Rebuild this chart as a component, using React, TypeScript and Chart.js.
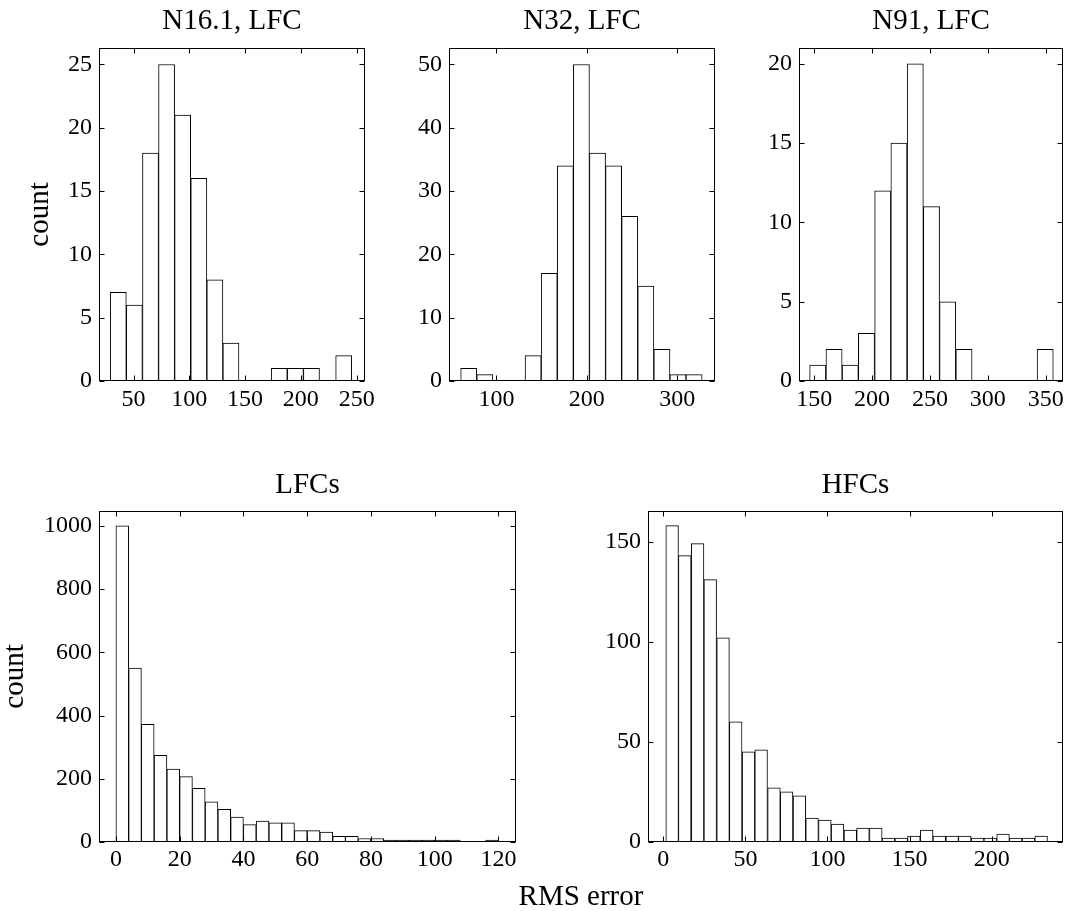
import React, { useEffect, useRef } from "react";
import { Chart, registerables } from "chart.js";
Chart.register(...registerables);

const FONT = "'Liberation Serif', 'Times New Roman', serif";

// ---- N16.1, LFC ----
const N16_BIN_CENTERS = [36.3, 50.7, 65.2, 79.6, 94.0, 108.5, 122.9, 137.3, 151.8, 166.2, 180.6, 195.1, 209.5, 223.9, 238.4];
const N16_COUNTS = [7, 6, 18, 25, 21, 16, 8, 3, 0, 0, 1, 1, 1, 0, 2];
const N16_X_TICKS = [50, 100, 150, 200, 250];
const N16_Y_TICKS = [0, 5, 10, 15, 20, 25];

// ---- N32, LFC ----
const N32_BIN_CENTERS = [69.4, 87.2, 105.0, 122.8, 140.6, 158.4, 176.2, 194.0, 211.8, 229.6, 247.4, 265.2, 283.0, 300.8, 318.6];
const N32_COUNTS = [2, 1, 0, 0, 4, 17, 34, 50, 36, 34, 26, 15, 5, 1, 1];
const N32_X_TICKS = [100, 200, 300];
const N32_Y_TICKS = [0, 10, 20, 30, 40, 50];

// ---- N91, LFC ----
const N91_BIN_CENTERS = [153.0, 167.1, 181.1, 195.1, 209.2, 223.2, 237.3, 251.3, 265.3, 279.4, 293.4, 307.5, 321.5, 335.5, 349.6];
const N91_COUNTS = [1, 2, 1, 3, 12, 15, 20, 11, 5, 2, 0, 0, 0, 0, 2];
const N91_X_TICKS = [150, 200, 250, 300, 350];
const N91_Y_TICKS = [0, 5, 10, 15, 20];

// ---- LFCs ----
const LFC_BIN_CENTERS = [2, 6, 10, 14, 18, 22, 26, 30, 34, 38, 42, 46, 50, 54, 58, 62, 66, 70, 74, 78, 82, 86, 90, 94, 98, 102, 106, 110, 114, 118];
const LFC_COUNTS = [1000, 550, 372, 274, 231, 207, 170, 127, 103, 79, 55, 66, 61, 61, 36, 36, 31, 18, 18, 11, 11, 6, 6, 6, 6, 6, 6, 0, 0, 6];
const LFC_X_TICKS = [0, 20, 40, 60, 80, 100, 120];
const LFC_Y_TICKS = [0, 200, 400, 600, 800, 1000];

// ---- HFCs ----
const HFC_BIN_CENTERS = [5.4, 13.1, 20.9, 28.6, 36.4, 44.1, 51.9, 59.6, 67.4, 75.1, 82.9, 90.6, 98.4, 106.1, 113.9, 121.6, 129.4, 137.1, 144.9, 152.6, 160.4, 168.1, 175.9, 183.6, 191.4, 199.1, 206.9, 214.6, 222.4, 230.1];
const HFC_COUNTS = [158, 143, 149, 131, 102, 60, 45, 46, 27, 25, 23, 12, 11, 9, 6, 7, 7, 2, 2, 3, 6, 3, 3, 3, 2, 2, 4, 2, 2, 3];
const HFC_X_TICKS = [0, 50, 100, 150, 200];
const HFC_Y_TICKS = [0, 50, 100, 150];

type Spec = {
  title: string;
  centers: number[];
  counts: number[];
  xTicks: number[];
  yTicks: number[];
  xMin: number;
  xMax: number;
  yMax: number;
  left: number;
  top: number;
  padL: number;
  plotW: number;
  padR: number;
  padT: number;
  plotH: number;
  padB: number;
  titlePadTop: number;
  xLabelPad: number;
  yTitlePad?: number;
};

const TITLE_SIZE = 29;
const TICK_SIZE = 24;

const boxPlugin = {
  id: "matlabBox",
  afterDatasetsDraw(chart: any) {
    const { ctx, chartArea: a, scales } = chart;
    ctx.save();
    ctx.strokeStyle = "#000";
    ctx.lineWidth = 1;
    const L = Math.round(a.left) + 0.5;
    const R = Math.round(a.right) - 0.5;
    const T = Math.round(a.top) + 0.5;
    const B = Math.round(a.bottom) - 0.5;
    ctx.strokeRect(L, T, R - L, B - T);
    const TL = 5;
    ctx.beginPath();
    scales.x.ticks.forEach((t: any) => {
      const p = Math.round(scales.x.getPixelForValue(t.value)) + 0.5;
      ctx.moveTo(p, B);
      ctx.lineTo(p, B - TL);
      ctx.moveTo(p, T);
      ctx.lineTo(p, T + TL);
    });
    scales.y.ticks.forEach((t: any) => {
      const p = Math.round(scales.y.getPixelForValue(t.value)) + 0.5;
      ctx.moveTo(L, p);
      ctx.lineTo(L + TL, p);
      ctx.moveTo(R, p);
      ctx.lineTo(R - TL, p);
    });
    ctx.stroke();
    ctx.restore();
  },
};

function Panel({ s }: { s: Spec }) {
  const ref = useRef<HTMLCanvasElement>(null);
  const W = s.padL + s.plotW + s.padR;
  const H = s.padT + s.plotH + s.padB;
  useEffect(() => {
    if (!ref.current) return;
    const chart = new Chart(ref.current, {
      type: "bar",
      data: {
        datasets: [
          {
            data: s.centers.map((c, i) => ({ x: c, y: s.counts[i] })),
            backgroundColor: "#ffffff",
            borderColor: "#000000",
            borderWidth: 1,
            barPercentage: 1,
            categoryPercentage: 1,
          } as any,
        ],
      },
      options: {
        responsive: false,
        animation: false,
        devicePixelRatio: 1,
        layout: { padding: { left: 0, top: 0, right: s.padR, bottom: 0 } },
        plugins: {
          legend: { display: false },
          tooltip: { enabled: false },
          title: {
            display: true,
            text: s.title,
            color: "#000",
            fullSize: false,
            font: { family: FONT, size: TITLE_SIZE, weight: "normal", lineHeight: 1 },
            padding: { top: s.titlePadTop, bottom: s.padT - TITLE_SIZE - s.titlePadTop },
          },
        },
        scales: {
          x: {
            type: "linear",
            offset: false,
            min: s.xMin,
            max: s.xMax,
            grid: { display: false, drawTicks: false, offset: false },
            border: { display: false },
            ticks: {
              color: "#000",
              font: { family: FONT, size: TICK_SIZE },
              padding: s.xLabelPad,
              maxRotation: 0,
              minRotation: 0,
              autoSkip: false,
              callback: (v: any) => String(v),
            },
            afterBuildTicks: (sc: any) => {
              sc.ticks = s.xTicks.map((v) => ({ value: v }));
            },
            afterFit: (sc: any) => {
              sc.height = s.padB;
              sc.paddingLeft = 0;
              sc.paddingRight = 0;
            },
          },
          y: {
            type: "linear",
            min: 0,
            max: s.yMax,
            grid: { display: false, drawTicks: false },
            border: { display: false },
            ticks: {
              color: "#000",
              font: { family: FONT, size: TICK_SIZE },
              padding: 7,
              autoSkip: false,
              callback: (v: any) => String(v),
            },
            afterBuildTicks: (sc: any) => {
              sc.ticks = s.yTicks.map((v) => ({ value: v }));
            },
            afterFit: (sc: any) => {
              sc.width = s.padL;
              sc.paddingTop = 0;
              sc.paddingBottom = 0;
            },
            title:
              s.yTitlePad !== undefined
                ? {
                    display: true,
                    text: "count",
                    color: "#000",
                    font: { family: FONT, size: TITLE_SIZE, lineHeight: 1 },
                    padding: { top: s.yTitlePad, bottom: 0 },
                  }
                : { display: false },
          },
        },
      } as any,
      plugins: [boxPlugin],
    });
    return () => chart.destroy();
  }, []);
  return (
    <canvas
      ref={ref}
      width={W}
      height={H}
      style={{ position: "absolute", left: s.left, top: s.top, width: W, height: H }}
    />
  );
}

const TOP_ROW = { top: 0, padT: 48, plotH: 333, padB: 40, titlePadTop: 6.5, xLabelPad: 4 };
const BOTTOM_ROW = { top: 440, padT: 71, plotH: 331, padB: 40, titlePadTop: 30.5, xLabelPad: 3 };

const SPECS: Spec[] = [
  {
    title: "N16.1, LFC", centers: N16_BIN_CENTERS, counts: N16_COUNTS, xTicks: N16_X_TICKS, yTicks: N16_Y_TICKS,
    xMin: 19, xMax: 257.5, yMax: 26.3, left: 0, padL: 99, plotW: 266, padR: 30, yTitlePad: 25.5, ...TOP_ROW,
  },
  {
    title: "N32, LFC", centers: N32_BIN_CENTERS, counts: N32_COUNTS, xTicks: N32_X_TICKS, yTicks: N32_Y_TICKS,
    xMin: 47.6, xMax: 341.7, yMax: 52.6, left: 370, padL: 79, plotW: 266, padR: 30, ...TOP_ROW,
  },
  {
    title: "N91, LFC", centers: N91_BIN_CENTERS, counts: N91_COUNTS, xTicks: N91_X_TICKS, yTicks: N91_Y_TICKS,
    xMin: 136.8, xMax: 365, yMax: 21.0, left: 720, padL: 79, plotW: 264, padR: 3, ...TOP_ROW,
  },
  {
    title: "LFCs", centers: LFC_BIN_CENTERS, counts: LFC_COUNTS, xTicks: LFC_X_TICKS, yTicks: LFC_Y_TICKS,
    xMin: -5.3, xMax: 125.5, yMax: 1047, left: 0, padL: 99, plotW: 417, padR: 20, yTitlePad: 0.5, ...BOTTOM_ROW,
  },
  {
    title: "HFCs", centers: HFC_BIN_CENTERS, counts: HFC_COUNTS, xTicks: HFC_X_TICKS, yTicks: HFC_Y_TICKS,
    xMin: -9.3, xMax: 243.4, yMax: 165.3, left: 526, padL: 122, plotW: 415, padR: 3, ...BOTTOM_ROW,
  },
];

export default function App() {
  return (
    <div
      style={{
        position: "absolute",
        left: 0,
        top: 0,
        width: 1066,
        height: 911,
        overflow: "hidden",
        background: "#fff",
      }}
    >
      {SPECS.map((s) => (
        <Panel key={s.title} s={s} />
      ))}
      <div
        style={{
          position: "absolute",
          left: 481,
          width: 200,
          top: 881,
          textAlign: "center",
          fontFamily: FONT,
          fontSize: 29,
          lineHeight: "29px",
          color: "#000",
        }}
      >
        RMS error
      </div>
    </div>
  );
}
